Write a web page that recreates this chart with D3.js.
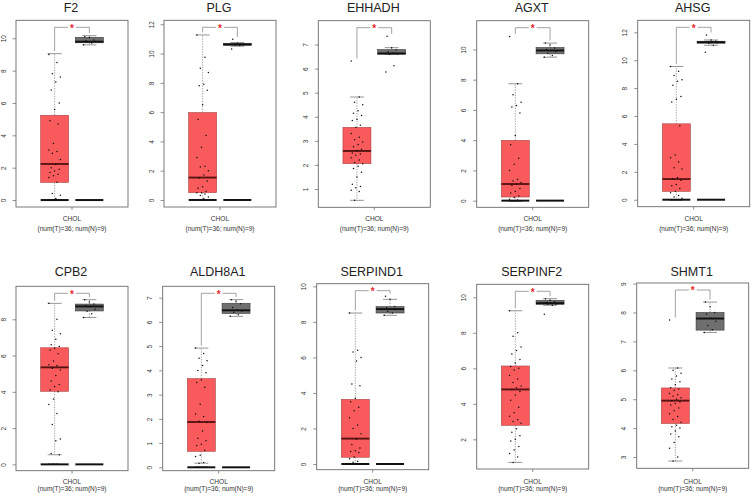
<!DOCTYPE html>
<html>
<head>
<meta charset="utf-8">
<script src="https://cdn.jsdelivr.net/npm/d3@7"></script>
<style>
  html, body { margin: 0; padding: 0; background: #fff; }
  svg { display: block; font-family: "Liberation Sans", Arial, Helvetica, sans-serif; }
</style>
</head>
<body>
<svg id="chart" width="753" height="498"></svg>
<script>
// ---------------- DATA ----------------
const genes = ["F2", "PLG", "EHHADH", "AGXT", "AHSG", "CPB2", "ALDH8A1", "SERPIND1", "SERPINF2", "SHMT1"];
const groups = ["T", "N"];
const xLabelTop = "CHOL";
const xLabelBottom = "(num(T)=36; num(N)=9)";
const significance = "*";

// box stats: [lower whisker, q1, median, q3, upper whisker]
const tumorBox = [
  [0, 1.09, 2.23, 5.24, 9.05],
  [0, 0.5, 1.53, 5.97, 11.27],
  [0.53, 2.05, 2.58, 3.56, 4.82],
  [0, 0.24, 1.1, 3.99, 7.73],
  [0, 0.6, 1.48, 5.44, 9.55],
  [0.53, 4.03, 5.35, 6.43, 8.88],
  [0.17, 0.66, 1.87, 3.66, 4.92],
  [0, 0.38, 1.43, 3.64, 8.5],
  [0.7, 2.79, 4.81, 6.13, 9.24],
  [2.86, 4.16, 4.95, 5.39, 6.08]
];
const normalBox = [
  [9.59, 9.72, 9.79, 10.06, 10.16],
  [10.5, 10.56, 10.63, 10.68, 10.75],
  [6.6, 6.6, 6.63, 6.79, 6.87],
  [9.49, 9.71, 9.93, 10.13, 10.42],
  [11.07, 11.22, 11.29, 11.36, 11.45],
  [8.1, 8.46, 8.71, 8.84, 9.08],
  [6.23, 6.35, 6.48, 6.77, 6.92],
  [8.37, 8.5, 8.72, 8.86, 9.27],
  [9.55, 9.6, 9.67, 9.83, 9.92],
  [7.31, 7.39, 7.79, 8.0, 8.36]
];

// sample values (tumor: 36 each, normal: 9 each)
const tumorPoints = [
  [9.0, 8.5, 7.8, 7.6, 7.3, 6.8, 6.0, 5.6, 4.9, 4.7, 3.5, 3.1, 3.0, 2.9, 2.5, 2.2, 2.0, 1.9, 1.8, 1.7, 1.6, 1.5, 1.4, 1.1, 0.4, 0.3, 0.1, 0, 0, 0, 0, 0, 0, 0, 0, 0],
  [11.27, 9.75, 9.0, 8.7, 7.9, 7.8, 7.5, 6.5, 5.5, 4.4, 3.6, 2.9, 2.3, 2.25, 2.0, 1.7, 1.5, 1.3, 0.9, 0.8, 0.6, 0.5, 0.5, 0.4, 0.3, 0.2, 0.1, 0, 0, 0, 0, 0, 0, 0, 0, 0],
  [6.32, 4.82, 4.6, 4.5, 4.25, 4.15, 4.05, 3.9, 3.85, 3.65, 3.55, 3.3, 3.15, 3.05, 2.95, 2.85, 2.75, 2.65, 2.6, 2.5, 2.45, 2.4, 2.3, 2.2, 2.1, 2.05, 1.95, 1.85, 1.7, 1.5, 1.2, 1.1, 1.05, 0.95, 0.9, 0.53],
  [10.86, 7.73, 7.0, 6.5, 6.3, 6.2, 5.8, 4.3, 3.7, 2.8, 2.4, 2.0, 1.4, 1.3, 1.2, 1.1, 1.0, 0.8, 0.6, 0.5, 0.3, 0.2, 0.1, 0.05, 0, 0, 0, 0, 0, 0, 0, 0, 0, 0, 0, 0],
  [9.55, 9.2, 8.9, 8.6, 8.5, 8.2, 7.4, 7.2, 7.0, 5.3, 3.2, 3.0, 2.7, 2.3, 2.2, 1.6, 1.5, 1.4, 1.1, 1.0, 0.8, 0.6, 0.5, 0.3, 0.2, 0.1, 0, 0, 0, 0, 0, 0, 0, 0, 0, 0],
  [8.88, 8.0, 7.4, 7.2, 6.9, 6.6, 6.5, 6.4, 6.3, 6.1, 5.7, 5.5, 5.45, 5.3, 5.2, 4.9, 4.6, 4.4, 4.3, 4.1, 4.0, 3.6, 3.3, 2.8, 2.2, 1.4, 1.3, 0.6, 0.53, 0, 0, 0, 0, 0, 0, 0],
  [4.92, 4.7, 4.5, 4.4, 4.2, 4.0, 3.9, 3.6, 3.5, 3.3, 2.6, 2.2, 2.1, 1.9, 1.85, 1.5, 1.2, 1.1, 0.95, 0.9, 0.7, 0.5, 0.45, 0.2, 0.17, 0, 0, 0, 0, 0, 0, 0, 0, 0, 0, 0],
  [8.5, 6.4, 6.3, 6.0, 5.8, 4.5, 4.4, 3.7, 3.5, 3.2, 3.0, 2.6, 2.2, 2.0, 1.7, 1.4, 1.1, 0.9, 0.75, 0.7, 0.65, 0.4, 0.3, 0.15, 0.1, 0, 0, 0, 0, 0, 0, 0, 0, 0, 0, 0],
  [9.24, 8.0, 7.8, 7.2, 7.0, 6.8, 6.5, 6.3, 6.1, 6.0, 5.9, 5.6, 5.4, 5.2, 5.0, 4.9, 4.8, 4.7, 4.5, 4.2, 3.8, 3.5, 3.3, 3.1, 3.0, 2.9, 2.6, 2.4, 2.2, 2.0, 1.9, 1.6, 1.4, 1.2, 1.0, 0.7],
  [7.74, 6.08, 6.0, 5.9, 5.8, 5.7, 5.6, 5.5, 5.4, 5.35, 5.3, 5.2, 5.15, 5.1, 5.05, 5.0, 4.95, 4.9, 4.85, 4.8, 4.7, 4.6, 4.5, 4.4, 4.3, 4.2, 4.1, 4.05, 4.0, 3.9, 3.8, 3.7, 3.5, 3.3, 3.0, 2.86]
];
const normalPoints = [
  [9.6, 9.7, 9.75, 9.8, 9.8, 9.85, 9.9, 10.05, 10.1],
  [10.31, 10.55, 10.58, 10.6, 10.62, 10.63, 10.65, 10.7, 10.97],
  [5.86, 6.12, 6.6, 6.62, 6.65, 6.7, 6.78, 6.87, 7.34],
  [9.49, 9.6, 9.75, 9.85, 9.93, 10.0, 10.1, 10.3, 10.42],
  [10.57, 11.07, 11.2, 11.25, 11.3, 11.32, 11.35, 11.45, 11.81],
  [8.1, 8.3, 8.45, 8.55, 8.7, 8.75, 8.85, 8.95, 9.08],
  [6.23, 6.3, 6.4, 6.45, 6.5, 6.6, 6.75, 6.85, 6.92],
  [8.37, 8.5, 8.6, 8.7, 8.72, 8.8, 8.86, 9.27, 9.45],
  [9.05, 9.55, 9.6, 9.62, 9.67, 9.7, 9.75, 9.83, 9.92],
  [7.31, 7.4, 7.55, 7.7, 7.8, 7.95, 8.0, 8.2, 8.36]
];

// y-axis ranges and tick labels
const yDomains = [
  [-0.43, 11.11], [-0.48, 12.27], [0.24, 7.99], [-0.44, 11.9], [-0.5, 12.86],
  [-0.35, 9.82], [-0.14, 7.47], [-0.32, 10.15], [0.33, 10.73], [2.61, 9.02]
];
const yTicks = [
  [0, 2, 4, 6, 8, 10], [0, 2, 4, 6, 8, 10, 12], [1, 2, 3, 4, 5, 6, 7], [0, 2, 4, 6, 8, 10], [0, 2, 4, 6, 8, 10, 12],
  [0, 2, 4, 6, 8], [0, 1, 2, 3, 4, 5, 6, 7], [0, 2, 4, 6, 8, 10], [2, 4, 6, 8, 10], [3, 4, 5, 6, 7, 8, 9]
];

// ---------------- LAYOUT ----------------
const plotW = 112;
const panelLeft = [16, 164, 318.3, 476.7, 637.7, 16, 162.7, 316.7, 476.7, 636.7];
const panelTop = [20.3, 20.3, 20.7, 20.7, 20.3, 286.3, 286.3, 283.7, 284.3, 283];
const panelBottom = [207, 207, 207.3, 207.3, 206.7, 470.7, 470.7, 469.7, 469, 468.3];
const titleY = [12, 275.5];
const xLab1Y = [220.5, 483.5];
const xLab2Y = [231, 491];

const tumorFill = "#F95B5C", tumorStroke = "#A84444", tumorMedian = "#5A1414";
const normalFill = "#6F6F6F", normalStroke = "#3A3A3A", normalMedian = "#111";
const whiskerColor = "#8A8A8A";

const svg = d3.select("#chart");

genes.forEach((gene, i) => {
  const row = i < 5 ? 0 : 1;
  const left = panelLeft[i], top = panelTop[i], bottom = panelBottom[i];
  const x = d3.scalePoint().domain(groups).range([left, left + plotW]).padding(1.113);
  const y = d3.scaleLinear().domain(yDomains[i]).range([bottom, top]);
  const boxW = plotW * 0.25;
  const g = svg.append("g");

  // title
  g.append("text")
    .attr("x", left + plotW / 2 - 1)
    .attr("y", titleY[row])
    .attr("text-anchor", "middle")
    .attr("font-size", 12.5)
    .attr("fill", "#222")
    .text(gene);

  // y axis
  const yAxis = d3.axisLeft(y).tickValues(yTicks[i]).tickSize(3.5).tickFormat(d3.format("d"));
  const ax = g.append("g").attr("transform", `translate(${left},0)`).call(yAxis);
  ax.select(".domain").remove();
  ax.selectAll(".tick line").attr("stroke", "#666").attr("stroke-width", 0.7);
  ax.selectAll(".tick text")
    .attr("x", 0).attr("dy", 0).attr("y", 0)
    .attr("font-size", 6.5).attr("fill", "#333")
    .attr("font-family", "Liberation Sans, Arial, sans-serif")
    .attr("text-anchor", "middle")
    .attr("transform", "translate(-10.5,0) rotate(-90)");

  // x tick between groups
  const xc = (x("T") + x("N")) / 2;
  g.append("line").attr("x1", xc).attr("x2", xc).attr("y1", bottom).attr("y2", bottom + 3)
    .attr("stroke", "#666").attr("stroke-width", 0.7);
  g.append("text").attr("x", xc).attr("y", xLab1Y[row]).attr("text-anchor", "middle")
    .attr("font-size", 6.6).attr("fill", "#333").text(xLabelTop);
  g.append("text").attr("x", xc).attr("y", xLab2Y[row]).attr("text-anchor", "middle")
    .attr("font-size", 6.5).attr("fill", "#333").text(xLabelBottom);

  // boxes
  const boxes = [
    { key: "T", s: tumorBox[i], pts: tumorPoints[i], fill: tumorFill, stroke: tumorStroke, med: tumorMedian },
    { key: "N", s: normalBox[i], pts: normalPoints[i], fill: normalFill, stroke: normalStroke, med: normalMedian }
  ];
  boxes.forEach(b => {
    const cx = x(b.key);
    const [lo, q1, md, q3, hi] = b.s;
    // whiskers (dotted)
    g.append("line").attr("x1", cx).attr("x2", cx).attr("y1", y(q3)).attr("y2", y(hi))
      .attr("stroke", whiskerColor).attr("stroke-width", 0.8).attr("stroke-dasharray", "1.3,1.3");
    g.append("line").attr("x1", cx).attr("x2", cx).attr("y1", y(q1)).attr("y2", y(lo))
      .attr("stroke", whiskerColor).attr("stroke-width", 0.8).attr("stroke-dasharray", "1.3,1.3");
    // caps
    [lo, hi].forEach(v => {
      g.append("line").attr("x1", cx - boxW / 4).attr("x2", cx + boxW / 4)
        .attr("y1", y(v)).attr("y2", y(v))
        .attr("stroke", whiskerColor).attr("stroke-width", 0.9);
    });
    // box
    g.append("rect")
      .attr("x", cx - boxW / 2).attr("width", boxW)
      .attr("y", y(q3)).attr("height", Math.max(0.8, y(q1) - y(q3)))
      .attr("fill", b.fill).attr("stroke", b.stroke).attr("stroke-width", 0.6);
    // median
    g.append("line").attr("x1", cx - boxW / 2).attr("x2", cx + boxW / 2)
      .attr("y1", y(md)).attr("y2", y(md))
      .attr("stroke", b.med).attr("stroke-width", 1.9);
  });

  // baseline (zero) group lines
  if (yDomains[i][0] < 0) {
    groups.forEach(k => {
      const cx = x(k);
      g.append("line").attr("x1", cx - boxW / 2).attr("x2", cx + boxW / 2)
        .attr("y1", y(0)).attr("y2", y(0))
        .attr("stroke", "#111").attr("stroke-width", 2);
    });
  }

  // jittered points
  boxes.forEach(b => {
    const cx = x(b.key);
    g.selectAll(null).data(b.pts).enter().append("circle")
      .attr("cx", (d, j) => cx + (((j * 7) % 11) - 5) * 1.15)
      .attr("cy", d => y(d))
      .attr("r", 0.75)
      .attr("fill", "#111");
  });

  // frame
  g.append("rect").attr("x", left).attr("y", top).attr("width", plotW).attr("height", bottom - top)
    .attr("fill", "none").attr("stroke", "#6a6a6a").attr("stroke-width", 0.9);

  // significance bracket
  const tMax = d3.max([tumorBox[i][4], d3.max(tumorPoints[i])]);
  const nMax = d3.max([normalBox[i][4], d3.max(normalPoints[i])]);
  const by = top + 7;
  const xT = x("T"), xN = x("N");
  const mid = (xT + xN) / 2;
  const bracketStroke = "#8a8a8a";
  g.append("line").attr("x1", xT).attr("x2", xT).attr("y1", y(tMax) - 2.5).attr("y2", by)
    .attr("stroke", bracketStroke).attr("stroke-width", 0.8);
  g.append("line").attr("x1", xN).attr("x2", xN).attr("y1", y(nMax) - 2.5).attr("y2", by)
    .attr("stroke", bracketStroke).attr("stroke-width", 0.8);
  g.append("line").attr("x1", xT).attr("x2", mid - 4).attr("y1", by).attr("y2", by)
    .attr("stroke", bracketStroke).attr("stroke-width", 0.8);
  g.append("line").attr("x1", mid + 4).attr("x2", xN).attr("y1", by).attr("y2", by)
    .attr("stroke", bracketStroke).attr("stroke-width", 0.8);
  g.append("text").attr("x", mid).attr("y", by + 4.2).attr("text-anchor", "middle")
    .attr("font-size", 10).attr("font-weight", "bold").attr("fill", "#E8262B").text(significance);
});
</script>
</body>
</html>
